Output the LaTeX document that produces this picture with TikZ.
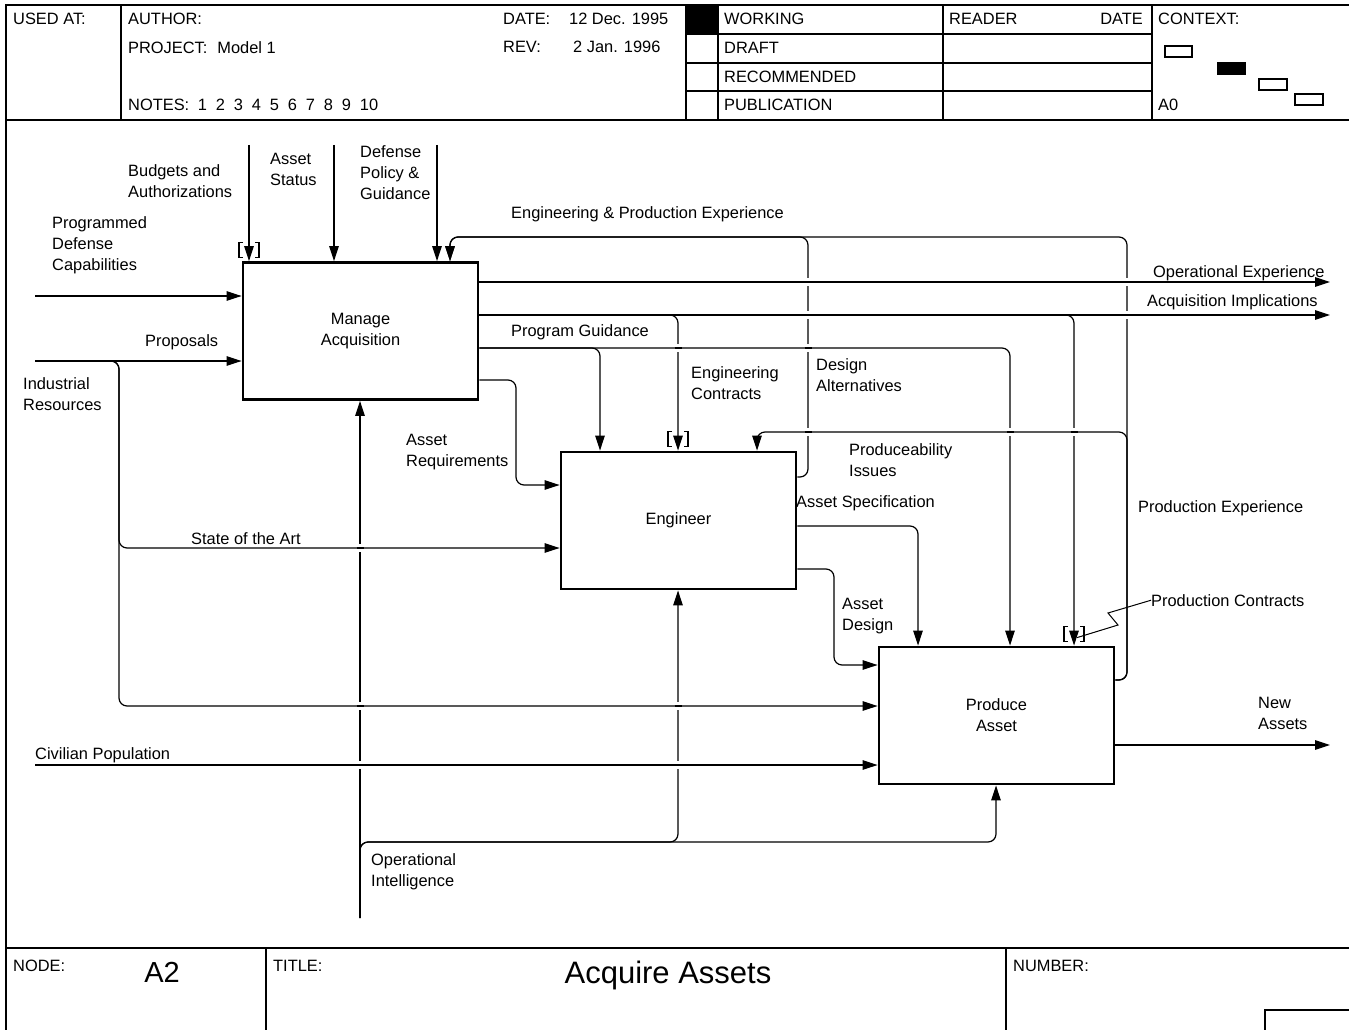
\documentclass[tikz,border=0pt]{standalone}
\usepackage{fontspec}
\setmainfont{Liberation Sans}
\usetikzlibrary{arrows.meta,calc}
\newcommand\lblfont{\fontsize{16.4pt}{21pt}\selectfont}
% tunnel brackets drawn around an arrow tip that enters a box top
\newcommand\tunnelmark[1]{%
  \draw[tun] ($(#1)+(-6,-19)$) -- ++(-4,0) -- ++(0,15) -- ++(4,0);
  \draw[tun] ($(#1)+(6,-19)$) -- ++(4,0) -- ++(0,15) -- ++(-4,0);}
\begin{document}
\begin{tikzpicture}[x=1pt,y=-1pt,
  frame/.style={line width=1.3pt},
  proc/.style={draw, line width=2.8pt, minimum width=235pt, minimum height=137pt,
    inner sep=0pt, align=center, font=\lblfont},
  wire/.style={line width=1.2pt, rounded corners=8pt},
  flow/.style={wire, -{Triangle[length=15pt,width=9.5pt]}},
  lbl/.style={inner sep=0pt, anchor=north west, align=left, font=\lblfont},
  tun/.style={line width=1.1pt},
  ctx/.style={line width=1.1pt},
]
\useasboundingbox (0,0) rectangle (1349,1030);
\fill[white] (0,0) rectangle (1349,1030);

% ---------- form frame ----------
\draw[frame] (6,1030) -- (6,5) -- (1349,5);
\draw[frame] (6,120) -- (1349,120);
\foreach \x in {121,686,718,943,1152} \draw[frame] (\x,5) -- (\x,120);
\foreach \y in {34,63,91} \draw[frame] (686,\y) -- (1152,\y);
\fill (686,5) rectangle (718,34);
\draw[frame] (6,948) -- (1349,948);
\draw[frame] (266,948) -- (266,1030);
\draw[frame] (1006,948) -- (1006,1030);
\draw[frame] (1265,1030) -- (1265,1010) -- (1349,1010);

% context thumbnails
\draw[ctx] (1165,46) rectangle (1192,57);
\filldraw[ctx] (1218,63) rectangle (1245,74);
\draw[ctx] (1259,79) rectangle (1287,90);
\draw[ctx] (1295,94) rectangle (1323,105);

% header texts
\node[lbl] (usedat) at (13,13) {USED AT:};
\node[lbl] (author) at (128,13) {AUTHOR:};
\node[lbl] (datek) at (503,13) {DATE:};
\node[lbl] (datev) at (569,13) {12 Dec. 1995};
\node[lbl] (project) at (128,41) {PROJECT:\hspace{10pt}Model 1};
\node[lbl] (revk) at (503,41) {REV:};
\node[lbl] (revv) at (573,41) {2 Jan. 1996};
\node[lbl] (notes) at (128,99) {NOTES:\hspace{8.5pt}1\hspace{8.9pt}2\hspace{8.9pt}3\hspace{8.9pt}4\hspace{8.9pt}5\hspace{8.9pt}6\hspace{8.9pt}7\hspace{8.9pt}8\hspace{8.9pt}9\hspace{8.9pt}10};
\node[lbl] (working) at (724,13) {WORKING};
\node[lbl] (draft) at (724,42) {DRAFT};
\node[lbl] (recommended) at (724,71) {RECOMMENDED};
\node[lbl] (publication) at (724,99) {PUBLICATION};
\node[lbl] (reader) at (949,13) {READER};
\node[lbl, anchor=north east] (rdate) at (1143,13) {DATE};
\node[lbl] (context) at (1158,13) {CONTEXT:};
\node[lbl] (azero) at (1158,99) {A0};

% footer texts
\node[lbl] (nodek) at (13,960) {NODE:};
\node[lbl] (titlek) at (273,960) {TITLE:};
\node[lbl] (numberk) at (1013,960) {NUMBER:};
\node[inner sep=0pt, anchor=base, font=\fontsize{29pt}{34pt}\selectfont] (nodev) at (162,982.5) {A2};
\node[inner sep=0pt, anchor=base, font=\fontsize{31pt}{36pt}\selectfont] (titlev) at (668,983) {Acquire Assets};

% ---------- activities ----------
\node[proc] (ma) at (360.5,331) {Manage\\Acquisition};
\node[proc] (eng) at (678.5,520.5) {Engineer};
\node[proc] (pa) at (996.5,715.5) {Produce\\Asset};

% ---------- free ends and bend points ----------
\coordinate (bud) at (249,145);
\coordinate (ast) at (334,145);
\coordinate (dpg) at (437,145);
\coordinate (pdc) at (35,296);
\coordinate (prop) at (35,361);
\coordinate (ir) at (119,361);
\coordinate (soa) at (119,548);
\coordinate (ir2) at (119,706);
\coordinate (civ) at (35,765);
\coordinate (oe) at (1330,282);
\coordinate (ai) at (1330,315);
\coordinate (ecb) at (678,315);
\coordinate (pcb) at (1074,315);
\coordinate (pg1) at (600,348);
\coordinate (pg2) at (1010,348);
\coordinate (ar) at (516,380);
\coordinate (ar2) at (516,485);
\coordinate (da) at (808,477);
\coordinate (da2) at (808,237);
\coordinate (epe) at (450,237);
\coordinate (as) at (918,526);
\coordinate (ad) at (834,569);
\coordinate (ad2) at (834,665);
\coordinate (pe) at (1127,680);
\coordinate (pe2) at (1127,432);
\coordinate (pe3) at (1127,237);
\coordinate (pi) at (757,432);
\coordinate (na) at (1330,745);
\coordinate (oi) at (360,918);
\coordinate (oi2) at (360,842);
\coordinate (oi3) at (678,842);
\coordinate (oi4) at (996,842);

% ---------- arrows ----------
% controls of Manage Acquisition
\draw[flow] (bud) -- (bud |- ma.north);
\draw[flow] (ast) -- (ast |- ma.north);
\draw[flow] (dpg) -- (dpg |- ma.north);
% inputs
\draw[flow] (pdc) -- (pdc -| ma.west);
\draw[flow] (prop) -- (prop -| ma.west);
\draw[flow] (prop) -- (ir) -- (soa) -- (soa -| eng.west);
\draw[flow] (prop) -- (ir) -- (ir2) -- (ir2 -| pa.west);
\draw[flow] (civ) -- (civ -| pa.west);
% outputs of Manage Acquisition
\draw[flow] (oe -| ma.east) -- (oe);
\draw[flow] (ai -| ma.east) -- (ai);
\draw[flow] (ai -| ma.east) -- (ecb) -- (ecb |- eng.north);
\draw[flow] (ai -| ma.east) -- (pcb) -- (pcb |- pa.north);
\draw[flow] (pg1 -| ma.east) -- (pg1) -- (pg1 |- eng.north);
\draw[flow] (pg1 -| ma.east) -- (pg2) -- (pg2 |- pa.north);
\draw[flow] (ar -| ma.east) -- (ar) -- (ar2) -- (ar2 -| eng.west);
% outputs of Engineer
\draw[flow] (da -| eng.east) -- (da) -- (da2) -- (epe) -- (epe |- ma.north);
\draw[flow] (as -| eng.east) -- (as) -- (as |- pa.north);
\draw[flow] (ad -| eng.east) -- (ad) -- (ad2) -- (ad2 -| pa.west);
% outputs of Produce Asset
\draw[flow] (pe -| pa.east) -- (pe) -- (pe2) -- (pi) -- (pi |- eng.north);
\draw[flow] (pe -| pa.east) -- (pe) -- (pe3) -- (epe) -- (epe |- ma.north);
\draw[flow] (na -| pa.east) -- (na);
% mechanism
\draw[flow] (oi) -- (oi |- ma.south);
\draw[flow] (oi) -- (oi2) -- (oi3) -- (oi3 |- eng.south);
\draw[flow] (oi) -- (oi2) -- (oi4) -- (oi4 |- pa.south);

% crossings: vertical lines are broken where a horizontal passes
\foreach \cx/\cy in {808/282, 808/315, 808/348, 808/432, 1127/282, 1127/315,
                     678/348, 1010/432, 1074/432, 360/548, 360/706, 360/765,
                     678/706, 678/765} {
  \fill[white] (\cx-2.5,\cy-4) rectangle (\cx+2.5,\cy+4);
  \draw[line width=1.2pt] (\cx-3.5,\cy) -- (\cx+3.5,\cy);
}

% tunnelled arrows
\tunnelmark{bud |- ma.north}
\tunnelmark{ecb |- eng.north}
\tunnelmark{pcb |- pa.north}

% ---------- arrow labels ----------
\node[lbl] (lbud) at (128,164) {Budgets and\\Authorizations};
\node[lbl] (last) at (270,153) {Asset\\Status};
\node[lbl] (ldpg) at (360,145) {Defense\\Policy \&\\Guidance};
\node[lbl] (lepe) at (511,206) {Engineering \& Production Experience};
\node[lbl] (lpdc) at (52,216) {Programmed\\Defense\\Capabilities};
\node[lbl] (loe) at (1153,265) {Operational Experience};
\node[lbl] (lai) at (1147,294) {Acquisition Implications};
\node[lbl] (lpg) at (511,324) {Program Guidance};
\node[lbl] (lprop) at (145,334) {Proposals};
\node[lbl] (lir) at (23,377) {Industrial\\Resources};
\node[lbl] (lda) at (816,358) {Design\\Alternatives};
\node[lbl] (lec) at (691,366) {Engineering\\Contracts};
\node[lbl] (lar) at (406,434) {Asset\\Requirements};
\node[lbl] (lpi) at (849,443) {Produceability\\Issues};
\node[lbl] (las) at (796,495) {Asset Specification};
\node[lbl] (lpe) at (1138,500) {Production Experience};
\node[lbl] (lsoa) at (191,532) {State of the Art};
\node[lbl] (lpc) at (1151,594) {Production Contracts};
\node[lbl] (lad) at (842,598) {Asset\\Design};
\node[lbl] (lna) at (1258,697) {New\\Assets};
\node[lbl] (lciv) at (35,747) {Civilian Population};
\node[lbl] (loi) at (371,853) {Operational\\Intelligence};

% squiggle leader for Production Contracts
\draw[line width=1pt] (lpc.west) -- (1108,613) -- (1118,625) -- ($(pcb |- pa.north)+(3,-8)$);

\end{tikzpicture}
\end{document}
